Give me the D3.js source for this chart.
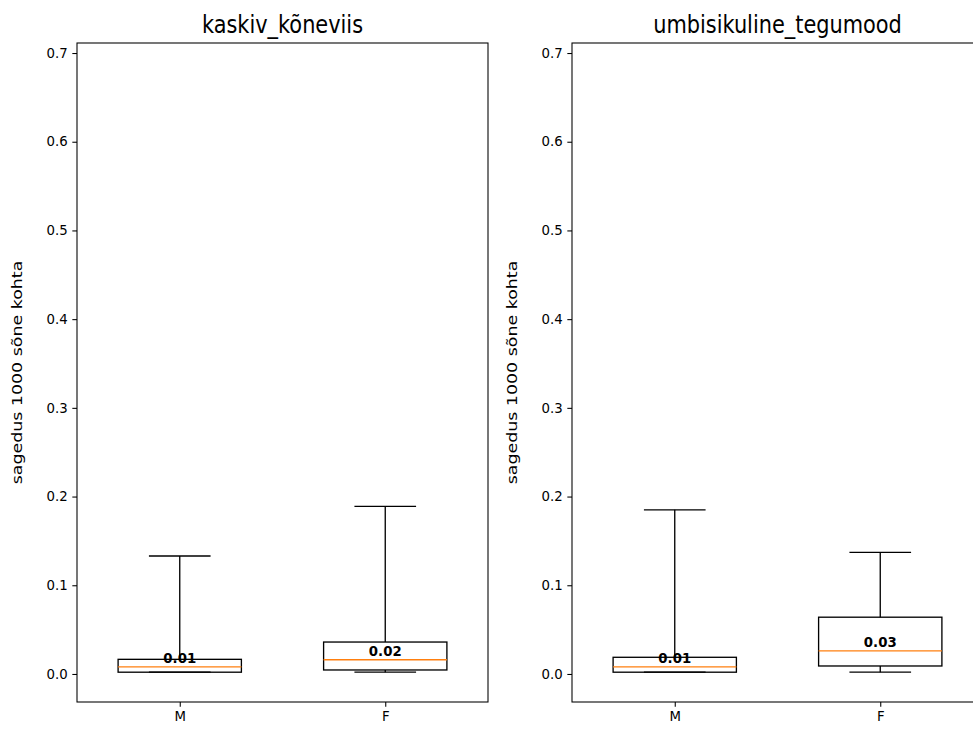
<!DOCTYPE html>
<html><head><meta charset="utf-8">
<script src="https://cdn.jsdelivr.net/npm/d3@7"></script>
<style>body{margin:0;background:#fff}svg{display:block}text{font-family:"DejaVu Sans",sans-serif}</style>
</head><body>
<svg id="c" width="973" height="729"></svg>
<script>
const panels = ["kaskiv_kõneviis", "umbisikuline_tegumood"];
const categories = ["M", "F"];
// [whiskerLow, q1, median, q3, whiskerHigh]
const kaskivStats = [[0.002, 0.002, 0.008, 0.0165, 0.133], [0.002, 0.0045, 0.016, 0.036, 0.189]];
const umbisStats = [[0.002, 0.002, 0.008, 0.0188, 0.185], [0.002, 0.009, 0.026, 0.064, 0.137]];
const yTicks = [0.0, 0.1, 0.2, 0.3, 0.4, 0.5, 0.6, 0.7];
const yLabel = "sagedus 1000 sõne kohta";
const allStats = [kaskivStats, umbisStats];

const svg = d3.select("#c");
const axLefts = [77, 572], axW = 411, axTop = 43, axBottom = 702;
const y = d3.scaleLinear().domain([-0.0316, 0.7113]).range([axBottom, axTop]);

panels.forEach((title, p) => {
  const g = svg.append("g").attr("transform", `translate(${axLefts[p]},0)`);
  const x = d3.scaleLinear().domain([0.5, 2.5]).range([0, axW]);
  const bw = x(1.3) - x(1.0); // half box width (width 0.6)
  const cw = x(1.15) - x(1.0);
  allStats[p].forEach((s, i) => {
    const cx = x(i + 1);
    const [lo, q1, med, q3, hi] = s;
    const gb = g.append("g");
    gb.append("line").attr("x1", cx).attr("x2", cx).attr("y1", y(q3)).attr("y2", y(hi)).attr("stroke", "#000").attr("stroke-width", 1.33);
    gb.append("line").attr("x1", cx).attr("x2", cx).attr("y1", y(q1)).attr("y2", y(lo)).attr("stroke", "#000").attr("stroke-width", 1.33);
    gb.append("line").attr("x1", cx - cw).attr("x2", cx + cw).attr("y1", y(hi)).attr("y2", y(hi)).attr("stroke", "#000").attr("stroke-width", 1.33);
    gb.append("line").attr("x1", cx - cw).attr("x2", cx + cw).attr("y1", y(lo)).attr("y2", y(lo)).attr("stroke", "#000").attr("stroke-width", 1.33);
    gb.append("rect").attr("x", cx - bw).attr("width", 2 * bw).attr("y", y(q3)).attr("height", y(q1) - y(q3)).attr("fill", "none").attr("stroke", "#000").attr("stroke-width", 1.33);
    gb.append("line").attr("x1", cx - bw).attr("x2", cx + bw).attr("y1", y(med)).attr("y2", y(med)).attr("stroke", "#ff7f0e").attr("stroke-width", 1.33);
    gb.append("text").attr("x", cx).attr("y", y(med) - 4).attr("text-anchor", "middle").attr("font-size", 13.3).attr("font-weight", "bold").attr("fill", "#000").text(med.toFixed(2));
  });
  // spines
  g.append("rect").attr("x", 0).attr("y", axTop).attr("width", axW).attr("height", axBottom - axTop).attr("fill", "none").attr("stroke", "#000").attr("stroke-width", 1.07);
  // y axis
  const ya = g.append("g").call(d3.axisLeft(y).tickValues(yTicks).tickFormat(d3.format(".1f")).tickSize(4.67).tickPadding(4.67));
  ya.select(".domain").remove();
  ya.selectAll("text").attr("font-size", 13.3).attr("fill", "#000").style("font-family", "DejaVu Sans");
  ya.selectAll("line").attr("stroke-width", 1.07);
  // x axis
  const xa = g.append("g").attr("transform", `translate(0,${axBottom})`).call(d3.axisBottom(x).tickValues([1, 2]).tickFormat((d) => categories[d - 1]).tickSize(4.67).tickPadding(4.67));
  xa.select(".domain").remove();
  xa.selectAll("text").attr("font-size", 13.3).attr("fill", "#000").style("font-family", "DejaVu Sans");
  xa.selectAll("line").attr("stroke-width", 1.07);
  // title
  g.append("text").attr("transform", `translate(${axW / 2},${axTop - 10}) scale(0.87,1)`).attr("text-anchor", "middle").attr("font-size", 24).attr("fill", "#000").text(title);
  // y label
  g.append("text").attr("transform", `translate(-55,${(axTop + axBottom) / 2}) rotate(-90) scale(1.31,1)`).attr("text-anchor", "middle").attr("font-size", 13.3).attr("fill", "#000").text(yLabel);
});
</script>
</body></html>
